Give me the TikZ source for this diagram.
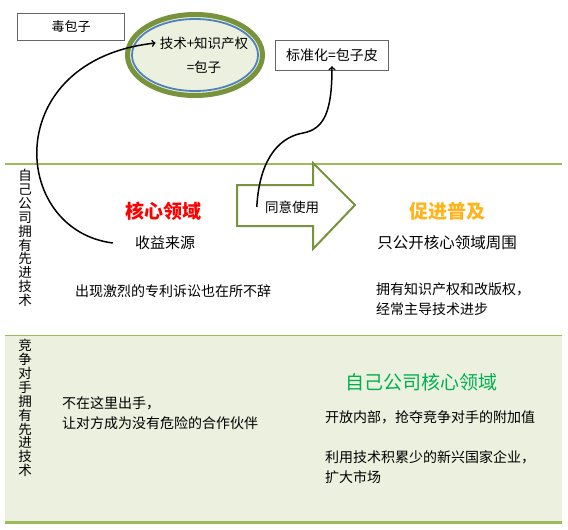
\documentclass[tikz,border=0pt]{standalone}
\usepackage{fontspec}
\setmainfont{Noto Sans CJK SC}
\usetikzlibrary{arrows}
\usetikzlibrary{shapes.geometric}
\usetikzlibrary{positioning}
\definecolor{bandgreen}{RGB}{155,187,89}
\definecolor{ringgreen}{RGB}{119,147,60}
\definecolor{ringblue}{RGB}{79,129,189}
\definecolor{palegreen}{RGB}{235,241,222}
\definecolor{spreadorange}{RGB}{255,180,30}
\definecolor{owngreen}{RGB}{0,176,80}

\begin{document}
\begin{tikzpicture}[x=1pt, y=-1pt, tagbox/.style={rectangle, draw=black!60, thin, inner sep=0, font=\fontsize{13}{15}\selectfont}, plain/.style={inner sep=0, font=\fontsize{14}{20}\selectfont}, sidelabel/.style={inner sep=0, align=center, font=\fontsize{13.5}{13.9}\selectfont}, title/.style={inner sep=0, font=\fontsize{19}{22}\selectfont}, band/.style={bandgreen, line width=2}, blockarrow/.style={draw=ringgreen, line width=2, fill=white}, link/.style={line width=1.5, ->, >=to}]
\useasboundingbox (0,0) rectangle (568,530);
\fill [palegreen] (5,335) rectangle (562,522);
\draw [band] (5,164) -- (562,164);
\draw [bandgreen, line width=1] (5,335) -- (562,335);
\draw [bandgreen, line width=3] (5,522) -- (562,522);
\node [tagbox, minimum width=107, minimum height=27] (poison) at (71,27) {毒包子};
\node [ellipse, draw=ringgreen, line width=5, fill=palegreen, minimum width=135, minimum height=81] (core) at (195,55) {};
\node [ellipse, draw=ringblue, line width=1.8, minimum width=126, minimum height=72] (coreinner) at (195,55) {};
\node [plain, font=\fontsize{13.5}{16}\selectfont] (techline) at (204,43) {技术+知识产权};
\node [plain, font=\fontsize{13.5}{16}\selectfont] (bunline) at (204,67) {=包子};
\node [tagbox, minimum width=113, minimum height=30, font=\fontsize{14}{16}\selectfont] (standard) at (332,55) {标准化=包子皮};
\draw [blockarrow] (237,185) -- (313,185) -- (313,163) -- (355,205) -- (313,249) -- (313,226) -- (237,226) -- cycle;
\node [plain, font=\fontsize{13.5}{16}\selectfont] (agree) at (292,207) {同意使用};
\node [sidelabel] (ownside) at (25,238) {自\\己\\公\\司\\拥\\有\\先\\进\\技\\术};
\node [sidelabel] (rivalside) at (25,408) {竞\\争\\对\\手\\拥\\有\\先\\进\\技\\术};
\node [title, red, font=\fontsize{19}{22}\selectfont\bfseries] (corefield) at (163,211) {核心领域};
\node [plain, font=\fontsize{15}{18}\selectfont] (income) at (165,243) {收益来源};
\node [plain, anchor=west] (lawsuit) at (75,291) {出现激烈的专利诉讼也在所不辞};
\node [title, spreadorange, font=\fontsize{19}{22}\selectfont\bfseries] (spread) at (447,211) {促进普及};
\node [plain, font=\fontsize{15.5}{18}\selectfont] (edgeonly) at (447,243) {只公开核心领域周围};
\node [plain, anchor=north west, align=left] (rights) at (376,283) {拥有知识产权和改版权，\\经常主导技术进步};
\node [title, owngreen] (ownfield) at (421,382) {自己公司核心领域};
\node [plain, anchor=north west, align=left] (partner) at (62,396) {不在这里出手，\\让对方成为没有危险的合作伙伴};
\node [plain, anchor=west] (inner) at (325,417) {开放内部，抢夺竞争对手的附加值};
\node [plain, anchor=north west, align=left] (market) at (325,450) {利用技术积累少的新兴国家企业，\\扩大市场};
\draw [link] ([xshift=-22]income.west) .. controls (10,230) and (0,60) .. ([xshift=-4]techline.west);
\draw [link] ([xshift=-8]agree.west) .. controls (259,165) and (275,138) .. (303,133) .. controls (325,129) and (332,110) .. ([yshift=4]standard.south);
\end{tikzpicture}
\end{document}
